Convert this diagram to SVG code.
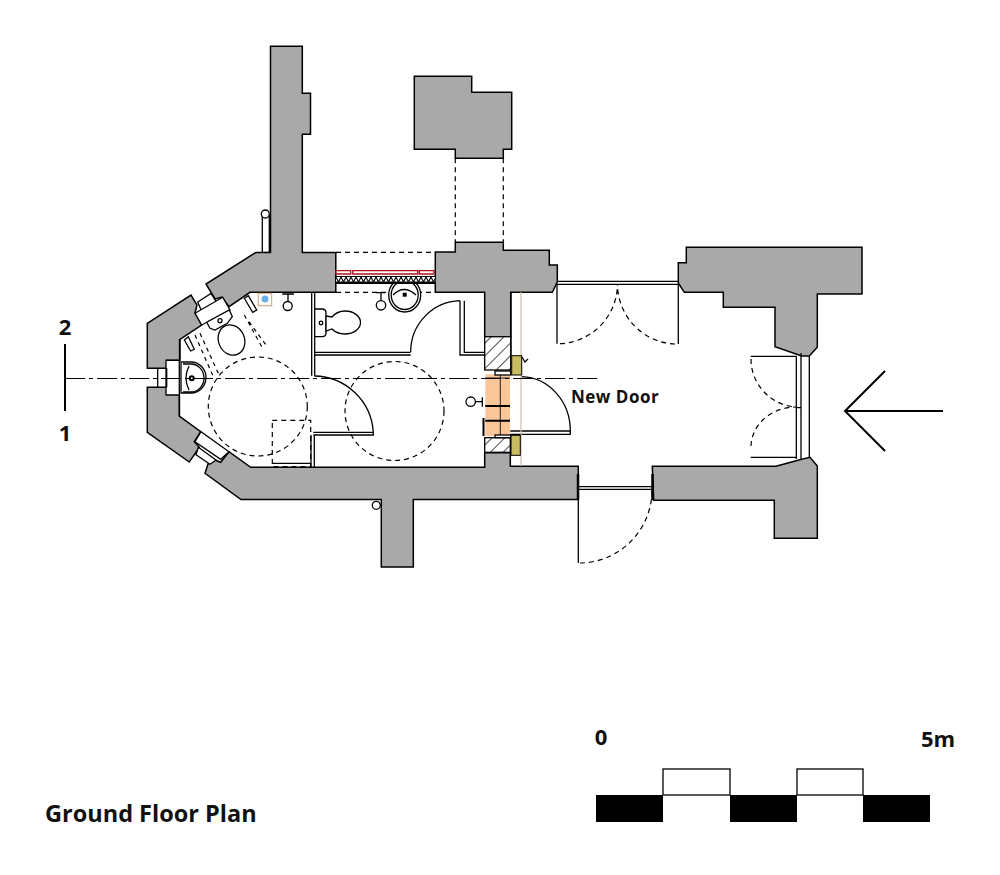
<svg xmlns="http://www.w3.org/2000/svg" width="1000" height="875" viewBox="0 0 1000 875">
<style>
.w{fill:#a9a9a9;stroke:#000;stroke-width:1.5;stroke-linejoin:miter}
.l{fill:none;stroke:#000;stroke-width:1.3}
.f{fill:#fff;stroke:#000;stroke-width:1.3}
.d{fill:none;stroke:#000;stroke-width:1.2;stroke-dasharray:5 4}
.s{fill:none;stroke:#000;stroke-width:1.2;stroke-dasharray:4 4}
.t{font-family:"Open Sans","Noto Sans",sans-serif;font-weight:700;fill:#111}
.k{fill:#000}
</style>
<defs>
<pattern id="hatch" width="9" height="9" patternUnits="userSpaceOnUse" patternTransform="rotate(45)"><rect width="9" height="9" fill="#fff"/><line x1="0" y1="0" x2="0" y2="9" stroke="#000" stroke-width="1.4"/></pattern>
<pattern id="zig" width="5" height="5" patternUnits="userSpaceOnUse" x="336" y="277"><rect width="5" height="5" fill="#fff"/><path d="M0 0L2.500 5L5 0" fill="none" stroke="#000" stroke-width="1.100"/></pattern>
</defs>
<rect width="1000" height="875" fill="#fff"/>
<g id="walls">
<path class="w" d="M270.500 46.300H302.300V93.300H310.500V134.300H302.300V252.500H335.800V292.300H250L229 306.700L222 297L215 299L206 284L255.700 252.500H270.500Z"/>
<path class="w" d="M414.300 76.300H471.700V92.300H511.700V149.300H503.300V158.300H455.300V149.300H414.300Z"/>
<path class="w" d="M435.300 252H455.300V242.300H503.300V250.300H549.300V265H557.300V282L552.300 292.300H510.700V336.700H484.700V292.300H435.300Z"/>
<path class="w" d="M686.300 247.300H862V294H817.300V347.300L809.300 356H801.700L775 346.700V307.300H723.300V292.300H684.300L678.300 283V262.700H686.300Z"/>
<path class="w" d="M147.300 323.300L191 295L197 305L195 313L201.700 325L180 339.500V360.300H166.700V368.300H147.300Z"/>
<path class="w" d="M147.300 387.300H179.300V416L200.700 431.700L194.300 441.700L199.300 447.300L189.300 462L147.300 432.300Z"/>
<path class="w" d="M205 473.300L210 458.300L220.700 462.300L229 451.700L250.700 467.300H484.700V452.700H510.300V466.300H578.300V499.500H413.300V567H381.300V499.500H241Z"/>
<path class="w" d="M652.300 466.300H776L801.700 459.300L810 457.300L817.300 466V538.300H774.300V500.300H653.700Z"/>
</g>
<g id="openings">
<path class="f" d="M197.700 302L211 293.500L217 303L202 312Z"/>
<path class="f" d="M195 313.300L222.700 297.300L230 310L201.700 325Z"/>
<path class="f" d="M198.300 447.300L216 460L210 464.300L196 454.700Z"/>
<path class="f" d="M201 431.700L195 441.700L220.700 459.300L229 451.700Z"/>
<path class="f" d="M166 360.300H179.300V395H166Z"/>
<path class="l" d="M157.700 368.300V387.300M166.700 368.300V387.300"/>
<path class="l" d="M179.500 339V360M179.500 395V416"/>
<path class="l" d="M557 281.300H678.300M557 284.300H678.300M557 284V343.700M678.300 284V344"/>
<path class="l" d="M579 486.700H652M579 489.300H652M578.300 489V563"/>
<path class="l" d="M750.700 356.300H796.300M750.700 457.300H796.300M796.300 356V459M801 353V459M809.300 356V458M796.300 407.700H801"/>
<path class="l" d="M311.700 292.300V375.700M314.700 292.300V375.700M314.700 352.300H410.700M314.700 355H410.700"/>
<path class="l" d="M460 300.700V355H484.700M464.300 300.700V352.300H484.700M410.700 352A51 51 0 0 1 460 300.700"/>
<path class="l" d="M311 435V467M314.300 435V467M313.300 432.300H373.300V435H313.300M373.300 432A60 60 0 0 0 314.500 376"/>
<path class="l" d="M272.300 463.300H310.700"/>
<path class="l" d="M510.300 431H570.300V434.300H510.300M570.300 431A50 54 0 0 0 521.700 376.700"/>
<path d="M483.500 418V436" stroke="#000" stroke-width="2" fill="none"/>
<path d="M578 474V500M652.500 474V500" stroke="#000" stroke-width="2.500" fill="none"/>
<path class="l" d="M511 292.300V356"/>
<path d="M521 292.300V466" stroke="#d4bca4" stroke-width="1.200" fill="none"/>
</g>
<g id="swings">
<path class="d" d="M560 343.700A60 60 0 0 0 617.500 284M675 344A60 60 0 0 1 617.500 284"/>
<path class="d" d="M580 563A73 73 0 0 0 652 489"/>
<path class="d" d="M751 359A48 48 0 0 0 796 407M751 446A45 40 0 0 1 796 407"/>
<path class="d" d="M455.300 158.300V242.300M503.300 158.300V242.300"/>
<path class="d" d="M336 252.300H435M336 292.300H435"/>
<circle class="d" cx="257.800" cy="406.500" r="49.500"/>
<circle class="d" cx="394.500" cy="411" r="49.500"/>
<rect class="d" x="272.300" y="420.300" width="38.400" height="46.400"/>
<path class="s" d="M244.300 315L261.700 346.700M249 321.700L267.300 346.700M195 335L213.300 376.700M200 333.300L218.300 373.300"/>
</g>
<g id="masonry">
<rect x="484.700" y="336.700" width="26" height="33.300" fill="url(#hatch)" stroke="#000" stroke-width="1.300"/>
<rect x="484.700" y="437.700" width="25.600" height="14.600" fill="url(#hatch)" stroke="#000" stroke-width="1.300"/>
<rect x="485.300" y="374.300" width="24.700" height="61.700" fill="#fbc79a"/>
<path d="M500.300 374.300V436M485.300 378H510" stroke="#222" stroke-width="1"/>
<path d="M485.300 406H510M485.300 420.700H510" stroke="#000" stroke-width="2"/>
<rect class="f" x="495" y="371" width="15.700" height="4"/>
<rect class="f" x="495" y="435" width="15.700" height="2.700"/>
<rect x="511.700" y="355.700" width="10" height="19.300" fill="#c8bd60" stroke="#000"/>
<rect x="511" y="435.300" width="9.300" height="20" fill="#c8bd60" stroke="#000"/>
<path class="l" d="M522 357L525 362L528 359"/>
</g>
<g id="fixtures">
<g id="wc-north">
<path class="f" d="M314.700 309H322Q326 309 326 313V333Q326 336.700 322 336.700H314.700Z"/>
<circle class="l" cx="321" cy="323" r="1.800"/>
<path class="f" d="M326 316L332 317Q337 311 345 311A15.500 11.500 0 0 1 345 334Q337 334 332 329L326 331Z"/>
</g>
<g id="wc-west">
<ellipse class="f" cx="231.500" cy="340" rx="13" ry="15.500" transform="rotate(-22 231.500 340)"/>
<path class="f" d="M206.700 322.300L229.300 310L232.300 316.700L227.300 323.300L215 330L210 328.300Z"/>
<circle class="l" cx="220" cy="320.700" r="2"/>
</g>
<g id="basin-north">
<ellipse class="f" cx="404.700" cy="295" rx="16" ry="17"/>
<ellipse class="l" cx="404.700" cy="295" rx="13.500" ry="14.500"/>
<path class="l" d="M393 295Q404 284 416 295"/>
<rect x="402.700" y="292.700" width="4" height="4" fill="#000"/>
</g>
<g id="basin-west">
<path class="f" d="M181 362H191A15 15.500 0 0 1 191 393H181Z"/>
<path class="l" d="M183 364H191A13 14 0 0 1 191 392H183"/>
<path class="l" d="M189 366Q183 378 189 390"/>
<circle cx="191.700" cy="378.300" r="3" fill="#000"/>
<circle cx="191.700" cy="378.300" r="1" fill="#fff"/>
</g>
<rect x="258.300" y="293.300" width="13.400" height="12.400" fill="#fff" stroke="#d0a070"/>
<circle cx="265" cy="299" r="3.500" fill="#6eaee8"/>
<path class="l" d="M282.300 294H294M288 294V301.700"/>
<circle class="l" cx="287.700" cy="306" r="4.500"/>
<path class="l" d="M375.700 292.700H385M381 292.700V300.700"/>
<circle class="l" cx="381" cy="305.300" r="4.700"/>
<path class="l" d="M482.300 397.300V406.700M482.300 401.700H475"/>
<circle class="l" cx="470.700" cy="401.700" r="4.700"/>
<rect class="f" x="262.300" y="216" width="7" height="36.300"/>
<circle class="f" cx="265.300" cy="214" r="4"/>
<circle class="f" cx="376.300" cy="505.300" r="4"/>
<path class="f" d="M244.300 298.300L248.300 295.700L256.700 310L252.700 312.300Z"/>
<path class="f" d="M184.300 340L188.300 336.700L194.300 349.300L190.700 351Z"/>
</g>
<g id="strip">
<path d="M336 270.700h14.700v3.300H336ZM352.700 270.700h65v3.300h-65ZM419.300 270.700h14.700v3.300h-14.700Z" fill="#fff" stroke="#b01020" stroke-width="1.300"/>
<rect x="336" y="276" width="99.300" height="8" fill="#000"/>
<rect x="336" y="277" width="99.300" height="4.500" fill="url(#zig)"/>
</g>
<g id="section">
<path d="M65 344V411" stroke="#000" stroke-width="2" fill="none"/>
<path d="M65 378.500H600" stroke="#000" stroke-width="1" stroke-dasharray="20 4 4 4" fill="none"/>
<text class="t" x="65" y="335" font-size="22" text-anchor="middle">2</text>
<text class="t" x="65" y="441" font-size="22" text-anchor="middle">1</text>
</g>
<g id="arrow"><path d="M943 411H845M885 371L845 411L885 451" fill="none" stroke="#000" stroke-width="2"/></g>
<text class="t" x="571" y="403" font-size="17" letter-spacing="0.500">New Door</text>
<text class="t" x="45" y="822" font-size="23.500">Ground Floor Plan</text>
<g id="scale">
<rect class="k" x="596" y="795" width="67" height="27"/><rect class="k" x="730" y="795" width="67" height="27"/><rect class="k" x="863" y="795" width="67" height="27"/>
<rect class="f" x="663" y="769" width="67" height="26"/><rect class="f" x="797" y="769" width="66" height="26"/>
<text class="t" x="601" y="745" font-size="22" text-anchor="middle">0</text>
<text class="t" x="938" y="747" font-size="22" text-anchor="middle">5m</text>
</g>
</svg>
